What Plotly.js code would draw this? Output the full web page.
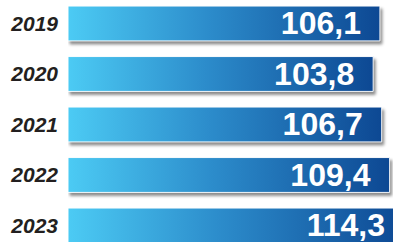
<!DOCTYPE html>
<html>
<head>
<meta charset="utf-8">
<script src="https://cdn.plot.ly/plotly-3.0.1.min.js"></script>
<style>
  html, body { margin: 0; padding: 0; background: #fff; overflow: hidden; width: 393px; height: 242px; }
  #chart { width: 420px; height: 242px; }
  .bars .point path { filter: drop-shadow(2px 3px 1.5px rgba(0,0,0,0.45)); }
</style>
</head>
<body>
<div id="chart"></div>
<script>
const years = ["2019", "2020", "2021", "2022", "2023"];
const values = [106.1, 103.8, 106.7, 109.4, 114.3];

const trace = {
  type: "bar",
  orientation: "h",
  y: years,
  x: values,
  width: 0.69,
  marker: { color: "#2b88c8", line: { color: "rgba(255,255,255,0.95)", width: 1 } },
  texttemplate: "%{x:.1f}",
  textposition: "inside",
  insidetextanchor: "end",
  constraintext: "none",
  textfont: { family: "Liberation Sans, Arial, sans-serif", size: 32, color: "#ffffff", weight: 700 },
  hoverinfo: "none",
  cliponaxis: false
};

const layout = {
  width: 420,
  height: 242,
  margin: { l: 68, r: 0, t: 0, b: 0, pad: 0 },
  paper_bgcolor: "#ffffff",
  plot_bgcolor: "#ffffff",
  separators: ", ",
  showlegend: false,
  xaxis: { range: [0, 119.73], visible: false, showgrid: false, zeroline: false, fixedrange: true },
  yaxis: {
    type: "category",
    range: [4.327, -0.465],
    showgrid: false, zeroline: false, showline: false,
    ticks: "",
    ticklabelstandoff: 9,
    tickfont: { family: "Liberation Sans, Arial, sans-serif", size: 21, color: "#231f20", weight: 700, style: "italic" },
    fixedrange: true
  }
};

Plotly.newPlot("chart", [trace], layout, { displayModeBar: false, staticPlot: true }).then(function (gd) {
  const svg = gd.querySelector("svg.main-svg");
  const ns = "http://www.w3.org/2000/svg";
  let defs = svg.querySelector("defs");
  if (!defs) { defs = document.createElementNS(ns, "defs"); svg.insertBefore(defs, svg.firstChild); }
  const grad = document.createElementNS(ns, "linearGradient");
  grad.setAttribute("id", "barGrad");
  grad.setAttribute("x1", "0"); grad.setAttribute("y1", "0");
  grad.setAttribute("x2", "1"); grad.setAttribute("y2", "0");
  [["0", "#4ccbf4"], ["0.45", "#2c8ccb"], ["1", "#0d4893"]].forEach(function (s) {
    const st = document.createElementNS(ns, "stop");
    st.setAttribute("offset", s[0]);
    st.setAttribute("stop-color", s[1]);
    grad.appendChild(st);
  });
  defs.appendChild(grad);
  gd.querySelectorAll(".bars .point path").forEach(function (p) {
    p.style.fill = "url(#barGrad)";
  });
  gd.querySelectorAll(".bars .point text.bartext").forEach(function (t) {
    const tr = t.getAttribute("transform") || "";
    t.setAttribute("transform", "translate(-16,0) " + tr);
  });
});
</script>
</body>
</html>
